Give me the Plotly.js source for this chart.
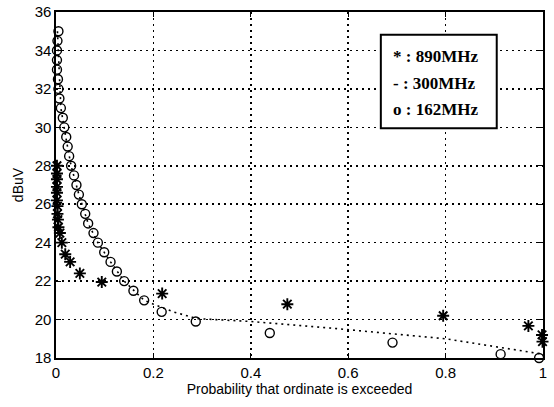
<!DOCTYPE html>
<html>
<head>
<meta charset="utf-8">
<script src="https://cdn.plot.ly/plotly-3.0.1.min.js"></script>
<style>html,body{margin:0;padding:0;background:#fff}#chart{width:554px;height:407px}</style>
</head>
<body>
<div id="chart"></div>
<script>
// 162 MHz (circles)
const x162 = [0.005,0.003,0.002,0.002,0.002,0.004,0.005,0.007,0.010,0.014,0.017,0.021,0.024,0.027,0.031,0.037,0.042,0.047,0.053,0.060,0.066,0.077,0.086,0.099,0.112,0.125,0.140,0.159,0.181,0.217,0.287,0.439,0.691,0.913,0.992];
const y162 = [35,34.5,34,33.5,33,32.5,32,31.5,31,30.5,30,29.5,29,28.5,28,27.5,27,26.5,26,25.5,25,24.5,24,23.5,23,22.5,22,21.5,21,20.4,19.9,19.3,18.8,18.2,18.0];
// 890 MHz (asterisks)
const x890 = [0.002,0.002,0.002,0.002,0.002,0.002,0.003,0.003,0.004,0.005,0.008,0.012,0.019,0.029,0.049,0.094,0.218,0.475,0.795,0.970,0.998,0.999];
const y890 = [28,27.6,27.3,26.9,26.6,26.2,25.9,25.5,25.2,24.8,24.5,24.0,23.4,23.0,22.4,21.95,21.35,20.8,20.2,19.67,19.2,18.85];
// 300 MHz (dotted line)
const x300 = [0.003,0.010,0.020,0.031,0.047,0.066,0.086,0.112,0.140,0.181,0.200,0.241,0.289,0.400,0.563,0.800,0.912,1.0];
const y300 = [35,31,29.5,28,26.5,25,24,23,22,21,20.8,20.4,20.05,19.9,19.56,19.0,18.55,18.2];

const xTicks = [0,0.2,0.4,0.6,0.8,1];
const xTickText = ['0','0.2','0.4','0.6','0.8','1'];
const yTicks = [18,20,22,24,26,28,30,32,34,36];
const legendLines = ['* : 890MHz','- : 300MHz','o : 162MHz'];

const traces = [
  {x:x300, y:y300, mode:'lines', line:{color:'#000', width:1.6, dash:'2px,4px'}, hoverinfo:'skip'},
  {x:x162, y:y162, mode:'markers', cliponaxis:false,
   marker:{symbol:'circle-open', size:9, color:'#000', line:{width:1.4, color:'#000'}}},
  {x:x890, y:y890, mode:'markers', cliponaxis:false,
   marker:{symbol:'asterisk-open', size:10, color:'#000', line:{width:1.9, color:'#000'}}}
];

const legY = [0.871, 0.794, 0.717];
const annotations = legendLines.map((t,i)=>({
  xref:'paper', yref:'paper', x:0.688, y:legY[i], xanchor:'left', yanchor:'middle',
  text:'<b>'+t+'</b>', showarrow:false,
  font:{family:'Liberation Serif, Times New Roman, serif', size:17, color:'#000'}
}));

const layout = {
  width:554, height:407,
  margin:{l:56, r:11, t:12, b:49},
  paper_bgcolor:'#fff', plot_bgcolor:'#fff',
  showlegend:false,
  font:{family:'Liberation Sans, Arial, sans-serif', size:15, color:'#000'},
  xaxis:{range:[0,1], tickvals:xTicks, ticktext:xTickText, ticks:'inside', ticklen:5, tickwidth:1.2, tickcolor:'#000',
    showline:true, linecolor:'#000', linewidth:1.6, mirror:'ticks', zeroline:false,
    showgrid:true, gridcolor:'#000', gridwidth:1.5, griddash:'2px,4px',
    title:{text:'Probability that ordinate is exceeded', font:{size:14}, standoff:3}},
  yaxis:{range:[18,36], tickvals:yTicks, ticks:'inside', ticklen:5, tickwidth:1.2, tickcolor:'#000',
    showline:true, linecolor:'#000', linewidth:1.6, mirror:'ticks', zeroline:false,
    showgrid:true, gridcolor:'#000', gridwidth:1.5, griddash:'2px,4px',
    title:{text:'dBuV', font:{size:14}, standoff:8}},
  shapes:[{type:'rect', xref:'paper', yref:'paper', x0:0.667, x1:0.905, y0:0.664, y1:0.934,
    line:{color:'#000', width:2}, fillcolor:'#fff', layer:'above'}],
  annotations:annotations
};
Plotly.newPlot('chart', traces, layout, {displayModeBar:false, staticPlot:true});
</script>
</body>
</html>
